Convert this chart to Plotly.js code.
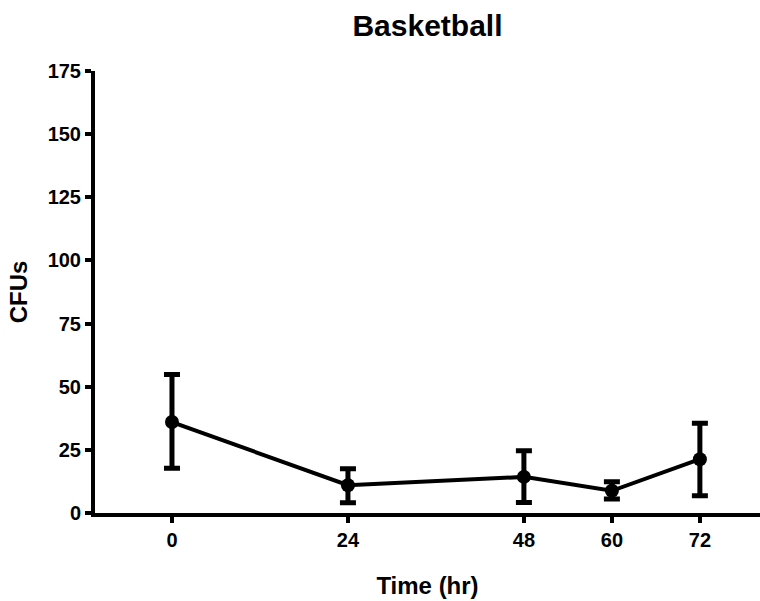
<!DOCTYPE html>
<html>
<head>
<meta charset="utf-8">
<script src="https://cdn.plot.ly/plotly-3.0.1.min.js"></script>
<style>html,body{margin:0;padding:0;background:#fff;}#chart{width:760px;height:601px;}</style>
</head>
<body>
<div id="chart"></div>
<script>
const timeHr = [0, 24, 48, 60, 72];
const cfuMean = [36, 11, 14.3, 8.8, 21.3];
const errUp = [18.8, 6.5, 10.3, 3.6, 14.2];
const errDown = [18.3, 6.9, 10.1, 3.3, 14.5];
const xTicks = [0, 24, 48, 60, 72];
const yTicks = [0, 25, 50, 75, 100, 125, 150, 175];

const font = "Liberation Sans, Arial, sans-serif";

const trace = {
  x: timeHr,
  y: cfuMean,
  type: 'scatter',
  mode: 'lines+markers',
  line: {color: '#000', width: 4},
  marker: {color: '#000', size: 14},
  error_y: {
    type: 'data', symmetric: false,
    array: errUp, arrayminus: errDown,
    color: '#000', thickness: 5, width: 8
  },
  cliponaxis: false
};

const layout = {
  width: 760, height: 601,
  paper_bgcolor: '#fff', plot_bgcolor: '#fff',
  margin: {l: 95, r: 0, t: 71, b: 88},
  showlegend: false,
  title: {text: '<b>Basketball</b>', font: {family: font, size: 30, color: '#000'}, x: 0.5625, xanchor: 'center', y: 0.958, yanchor: 'middle'},
  xaxis: {
    range: [-10.5, 80.2],
    tickvals: xTicks, ticktext: xTicks.map(v => '<b>' + v + '</b>'),
    showgrid: false, zeroline: false,
    showline: true, linecolor: '#000', linewidth: 4,
    ticks: 'outside', ticklen: 6, tickwidth: 4, tickcolor: '#000',
    tickfont: {family: font, size: 20, color: '#000'},
    title: {text: '<b>Time (hr)</b>', font: {family: font, size: 24, color: '#000'}, standoff: 28}
  },
  yaxis: {
    range: [0, 175],
    tickvals: yTicks, ticktext: yTicks.map(v => '<b>' + v + '</b>'),
    showgrid: false, zeroline: false,
    showline: true, linecolor: '#000', linewidth: 4,
    ticks: 'outside', ticklen: 6, tickwidth: 4, tickcolor: '#000',
    tickfont: {family: font, size: 20, color: '#000'},
    title: {text: '<b>CFUs</b>', font: {family: font, size: 24, color: '#000'}, standoff: 14}
  }
};

Plotly.newPlot('chart', [trace], layout, {displayModeBar: false, staticPlot: true});
</script>
</body>
</html>
